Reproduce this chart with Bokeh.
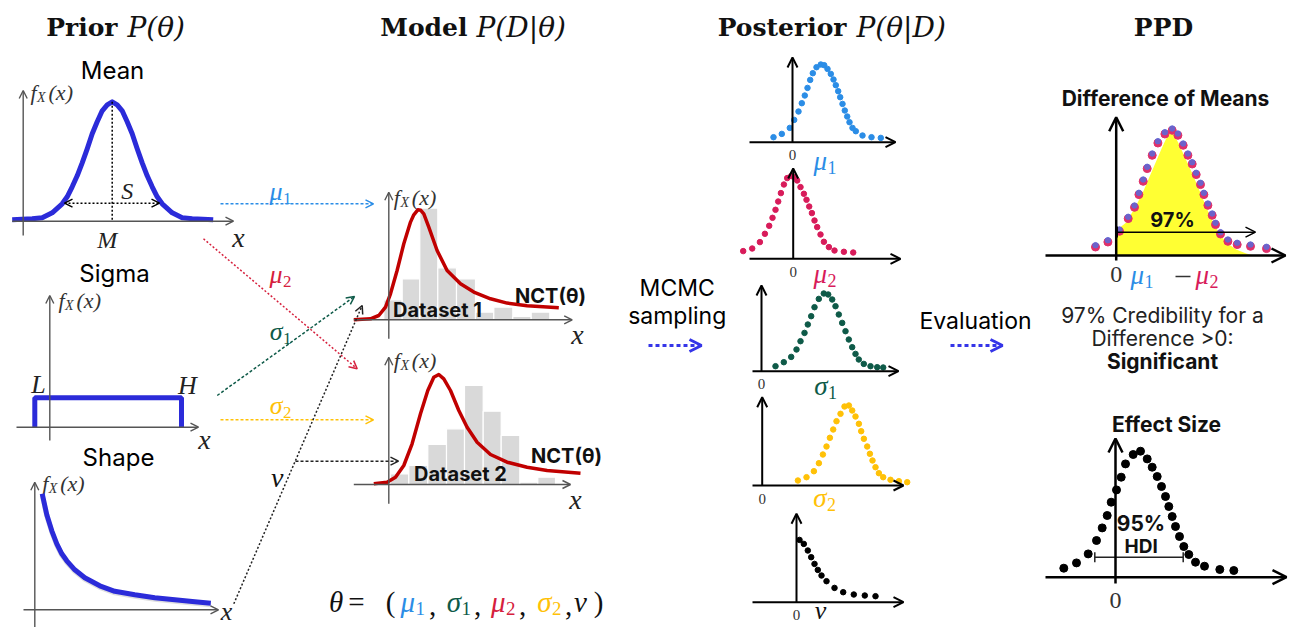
from bokeh.plotting import figure
from bokeh.models import Range1d, Arrow, OpenHead
from bokeh.embed import file_html
from bokeh.resources import INLINE
from bokeh.core.properties import value

# ---------------- data ----------------
titles = ["Prior", "Model", "Posterior", "PPD"]
title_math = ["P(θ)", "P(D|θ)", "P(θ|D)", ""]

# Prior "Mean": offsets from M and curve heights
mean_dx = [-100, -80, -70, -60, -50, -45, -40, -35, -30, -25, -20, -15, -10, -5, 0,
           5, 10, 15, 20, 25, 30, 35, 40, 45, 50, 60, 70, 80, 101]
mean_h = [0, 1, 2, 7, 16, 23, 33, 44, 57, 71, 86, 98, 109, 115, 118,
          115, 109, 98, 86, 71, 57, 44, 33, 23, 16, 7, 2, 1, 0]
# Prior "Sigma": uniform between L and H
sigma_L, sigma_H, sigma_h = -15, 131.7, 29.4
# Prior "Shape": decaying curve
shape_dx = [7.4, 12, 17, 22, 27, 32, 40, 50, 65, 80, 100, 120, 140, 160, 176]
shape_h = [116, 95, 79, 66, 56, 49, 40, 32, 24, 18.5, 15, 12, 10, 8, 6.6]

# Model: histograms and NCT curves
hist1_edges = [-5, 13.4, 31, 49, 67.7, 86.7, 105, 124, 142.4, 161]
hist1_h = [20, 41, 111.7, 52, 41, 7.7, 12.7, 3.3, 7.7]
hist2_edges = [1.7, 20, 39, 57.7, 75.7, 94.4, 112.4, 131, 149, 166.7]
hist2_h = [10.7, 19, 40, 55.7, 99, 73.3, 49, 2.3, 7.3]
nct1_x = [-35, -18.3, -10, -3.3, 1.7, 8.3, 15, 21.7, 25, 29, 32, 35, 40, 48.3, 58.3, 71.7, 85, 101.7, 118.3, 138.3, 170]
nct1_h = [0, 1, 4.3, 12.7, 26, 49.3, 76, 97.7, 105, 110, 109.5, 106, 92.7, 69.3, 49.3, 36, 27.7, 21, 16.7, 14, 12]
nct2_x = [-15, -1.7, 6.7, 15, 23.3, 31.7, 39, 45, 50, 55, 61.7, 70, 78.3, 88.3, 101.7, 118.3, 138.3, 158.3, 191.7]
nct2_h = [0.7, 2.3, 7.3, 19, 40.7, 70.7, 94, 107.3, 110, 105.7, 94, 74, 57.3, 42.3, 30, 22.3, 17.3, 14, 11.3]

# Posterior samples
mu1_x = [-19, -10.7, -2.7, 1.7, 6, 9.3, 12.3, 15, 17.7, 20.3, 24, 28.3, 31.7, 35, 38.3, 41, 43.3, 45.7, 47.7, 50, 52.3, 54.7, 57, 60, 63.3, 70, 79, 88.3]
mu1_h = [5, 8.3, 14.3, 22.3, 30.7, 39, 46.7, 54.3, 62.3, 69, 75, 77.7, 77, 73.3, 68.3, 62.7, 57, 51, 45, 38.3, 31.7, 25.7, 20, 14.3, 11, 6.7, 5, 4.3]
mu2_x = [-50, -41, -33.3, -28.3, -24, -20.7, -17.7, -15, -12.3, -9.3, -6, -2, 1.3, 4, 7.3, 10.7, 13.3, 16, 18.7, 21.3, 24, 27.3, 30.7, 35.7, 41.3, 50.7, 60]
mu2_h = [7.7, 10.3, 16.7, 25, 33, 41, 49, 57.3, 65.7, 74.3, 80.7, 82.7, 81.7, 78.3, 71.7, 65, 59, 52.3, 45.7, 38.3, 31.7, 24.3, 17, 11.7, 8.3, 7, 6.3]
s1_x = [14, 22.3, 29.7, 35, 39, 43, 46.3, 49.7, 53, 57.3, 62.3, 66.7, 70.7, 74, 77.3, 80.7, 84, 87.3, 90.7, 94, 97.3, 102.3, 109, 115.7, 121.7]
s1_h = [5, 9, 14.3, 21.7, 30, 38.3, 46.7, 55, 64, 72.3, 77.7, 76.7, 71.7, 65, 56.7, 48.3, 40, 31.7, 24, 17.3, 11.7, 7.3, 5, 4, 3.7]
s2_x = [35.7, 44.3, 51.7, 56.7, 60.7, 64.3, 67.7, 71, 74.3, 78.3, 82.3, 86.7, 90, 93.3, 96.7, 99, 101.7, 105, 107.7, 110.3, 113.3, 116.7, 121, 128.3, 136.7, 145]
s2_h = [5, 8.3, 14.3, 22.3, 31, 39, 47.7, 56, 64.3, 71.7, 79, 80, 75, 69, 61.7, 54.3, 46.7, 39, 31.7, 25, 18.3, 12.3, 8.3, 5.7, 4.3, 3.3]
nu_x = [3, 7.3, 11.3, 14.7, 18, 21.3, 25, 30, 38, 46.7, 57.3, 68.3, 79]
nu_h = [62.3, 58.3, 51.7, 45, 38.3, 32.3, 26.7, 21, 14.3, 10, 7.7, 6.7, 6]

# PPD
diff_x = [-20.7, -8.3, 3.3, 12, 18.3, 22.7, 27, 31, 36, 41.7, 48.7, 56, 61.7, 67, 71.7, 76, 80, 84.3, 87.7, 91.7, 96, 99.3, 104.3, 111.7, 121, 134.3, 150.3]
diff_h = [9.3, 14.3, 25, 37.7, 49, 61.7, 75, 87.7, 101, 113.3, 122.3, 126, 121, 111, 101, 92.3, 81.7, 71.7, 61.7, 51, 41, 31.7, 22.3, 15, 11.7, 10, 7.7]
diff_fill_x = [0, 0, 10, 20, 27, 33, 39, 45, 50, 54, 57, 62, 67, 72, 77, 82, 87, 92, 97, 103, 110, 120, 130, 138]
diff_fill_h = [0, 25, 33, 50, 64, 78, 92, 106, 117, 123, 122, 113, 102, 91, 80, 68, 56, 44, 33, 22, 13, 6, 2, 0]
eff_x = [-51.7, -39, -27.3, -19, -13.3, -8.3, -4.3, 1, 5.7, 10, 17.7, 25, 31.7, 36.7, 41.7, 46, 50, 53.3, 56.7, 60, 64, 68.3, 73.3, 80, 89, 104.3, 118.3]
eff_h = [9, 14.3, 23.3, 36.7, 49.3, 61.7, 75, 87.3, 100, 113.3, 122.7, 126, 118.3, 110, 100.7, 90.7, 80.7, 70.7, 60.7, 50.7, 40.7, 30.7, 22.7, 15, 11, 7.7, 6.7]
credible_pct = "97%"
hdi_range = [-20.7, 67.7]

# ---------------- figure ----------------
W, H = 1293, 627
p = figure(width=W, height=H, x_range=Range1d(0, W), y_range=Range1d(H, 0),
           output_backend="svg", toolbar_location=None, min_border=0,
           x_axis_location=None, y_axis_location=None)
p.grid.visible = False
p.outline_line_color = None
p.background_fill_color = "white"

SANS = "Inter"
SERIF = "Liberation Serif"
TSERIF = "DejaVu Serif"

BLUE = "#2b2bd9"
C_MU1 = "#2b8de6"
C_MU2 = "#d6203d"
C_MU2P = "#d81b5a"
C_S1 = "#0e5a48"
C_S2 = "#ffc107"
RED = "#c00000"
GRAY = "#555555"


def T(x, y, s, size, color="black", font=SANS, style="normal", align="center"):
    p.text(x=[x], y=[y], text=[s], text_font=value(font), text_font_size=f"{size}px",
           text_font_style=style, text_color=color, text_align=align, text_baseline="middle")


def ARW(x0, y0, x1, y1, color, lw, dash="solid", hs=8, both=False):
    kw = {}
    if both:
        kw["start"] = OpenHead(size=hs, line_color=color, line_width=lw)
    p.add_layout(Arrow(end=OpenHead(size=hs, line_color=color, line_width=lw),
                       x_start=x0, y_start=y0, x_end=x1, y_end=y1,
                       line_color=color, line_width=lw, line_dash=dash, **kw))


def axes(ox, oy, xl, xr, yt, yb, color, lw, hs):
    ARW(ox, yb, ox, yt, color, lw, hs=hs)
    ARW(xl, oy, xr, oy, color, lw, hs=hs)


def sym(xj, y, base, sub, color, size):
    T(xj, y, base, size, color, SERIF, "italic", "right")
    T(xj + 0.5, y + 0.25 * size, sub, round(size * 0.66), color, SERIF, "normal", "left")


def fx(xl, y, size=22, color="#333333"):
    T(xl, y, "f", size, color, SERIF, "italic", "left")
    T(xl + 0.3 * size, y + 0.22 * size, "X", round(size * 0.62), color, SERIF, "italic", "left")
    T(xl + 0.82 * size, y, "(x)", size, color, SERIF, "italic", "left")


# ---------------- titles ----------------
T(117, 27, titles[0], 25, "#111", TSERIF, "bold", "right")
T(127, 27, title_math[0], 28, "#111", TSERIF, "italic", "left")
T(467, 27, titles[1], 25, "#111", TSERIF, "bold", "right")
T(476, 27, title_math[1], 28, "#111", TSERIF, "italic", "left")
T(846, 27, titles[2], 25, "#111", TSERIF, "bold", "right")
T(856, 27, title_math[2], 28, "#111", TSERIF, "italic", "left")
T(1163, 27, titles[3], 25, "#111", TSERIF, "bold", "center")

# ---------------- prior: Mean ----------------
mx, mb = 111.7, 219.3
T(112, 70, "Mean", 24)
axes(22.7, 220.7, 11.7, 233, 90, 235, GRAY, 1.4, 8)
fx(30, 92)
p.line([mx + d for d in mean_dx], [mb - h for h in mean_h], line_color=BLUE, line_width=5, line_join="round")
p.line([mx, mx], [mb - max(mean_h), 221], line_color="black", line_width=1.5, line_dash="2 2")
ARW(64, 202.7, 159, 202.7, "black", 1.5, "2 2", 8, both=True)
T(126.7, 190, "S", 24, "#222", SERIF, "italic")
T(106.7, 239, "M", 24, "#222", SERIF, "italic")
T(238, 237, "x", 28, "#222", SERIF, "italic")

# ---------------- prior: Sigma ----------------
sx0, sb = 49.3, 426.7
T(114, 273, "Sigma", 24)
axes(sx0, sb, 16, 198, 295, 440, GRAY, 1.4, 8)
fx(58, 300)
p.line([sx0 + sigma_L, sx0 + sigma_L, sx0 + sigma_H, sx0 + sigma_H], [sb, sb - sigma_h, sb - sigma_h, sb],
       line_color=BLUE, line_width=5)
T(38, 384, "L", 26, "#222", SERIF, "italic")
T(187, 385, "H", 26, "#222", SERIF, "italic")
T(204, 439, "x", 28, "#222", SERIF, "italic")

# ---------------- prior: Shape ----------------
hx0, hb = 34.3, 609.3
T(118, 457, "Shape", 24)
axes(hx0, hb, 23, 218, 481.7, 630, GRAY, 1.4, 8)
fx(41.7, 483)
p.line([hx0 + d for d in shape_dx], [hb - h + 1.5 for h in shape_h], line_color="#c8c8c8", line_width=5, alpha=0.6)
p.line([hx0 + d for d in shape_dx], [hb - h for h in shape_h], line_color=BLUE, line_width=5, line_join="round")
T(226, 611, "x", 26, "#222", SERIF, "italic")

# ---------------- model panels ----------------
def model(ox, ob, edges, hts, cx, ch, xr, yt, yb, fy, nct_xy, ds_xy, ds_text, xlab):
    p.quad(left=[ox + e for e in edges[:-1]], right=[ox + e for e in edges[1:]],
           bottom=[ob] * len(hts), top=[ob - h for h in hts],
           fill_color="#d9d9d9", line_color="white", line_width=1.2)
    axes(ox, ob, 353.3, xr, yt, yb, GRAY, 1.4, 8)
    fx(393.3, fy)
    p.line([ox + x for x in cx], [ob - h for h in ch], line_color=RED, line_width=3.5, line_join="round")
    T(nct_xy[0], nct_xy[1], "NCT(θ)", 20, "#111", SANS, "bold")
    T(ds_xy[0], ds_xy[1], ds_text, 20, "#111", SANS, "bold")
    T(xlab[0], xlab[1], "x", 28, "#222", SERIF, "italic")


model(388.3, 319.3, hist1_edges, hist1_h, nct1_x, nct1_h, 571.7, 191.7, 338.3, 197,
      (550, 295), (437, 309), "Dataset 1", (577, 334))
model(388.3, 484, hist2_edges, hist2_h, nct2_x, nct2_h, 570, 356.7, 503.3, 360,
      (566, 455), (460, 473), "Dataset 2", (575, 499))

# ---------------- prior -> model arrows ----------------
ARW(220, 203.3, 373, 203.3, C_MU1, 1.5, "3 2", 8)
sym(282, 191, "μ", "1", C_MU1, 26)
ARW(203, 238.3, 356.7, 368.3, C_MU2, 1.5, "2 2", 8)
sym(282, 274, "μ", "2", C_MU2, 26)
ARW(216.7, 395, 354, 296, C_S1, 1.5, "3 2", 8)
sym(282, 331, "σ", "1", C_S1, 26)
ARW(220, 419.3, 373, 419.3, C_S2, 1.5, "3 2", 8)
sym(282, 405, "σ", "2", C_S2, 26)
ARW(233.3, 603.3, 361.7, 305, "#222", 1.5, "2 2", 8)
ARW(295, 460.7, 398, 460.7, "#222", 1.5, "3 2", 8)
T(276.7, 477, "ν", 28, "#111", SERIF, "italic")

# theta formula
fy = 601
T(335.5, fy, "θ", 29, "#111", SERIF, "italic")
T(356, fy, "=", 29, "#111", SERIF)
T(390, fy, "(", 29, "#111", SERIF)
sym(414.5, fy, "μ", "1", C_MU1, 29)
T(432, fy + 4, ",", 29, "#111", SERIF)
sym(460.5, fy, "σ", "1", C_S1, 29)
T(477, fy + 4, ",", 29, "#111", SERIF)
sym(505, fy, "μ", "2", C_MU2, 29)
T(522, fy + 4, ",", 29, "#111", SERIF)
sym(551, fy, "σ", "2", C_S2, 29)
T(568, fy + 4, ",", 29, "#111", SERIF)
T(580, fy, "ν", 29, "#111", SERIF, "italic")
T(598, fy, ")", 29, "#111", SERIF)

# ---------------- MCMC / Evaluation ----------------
T(676.7, 287, "MCMC", 23)
T(676.7, 315, "sampling", 23)
ARW(648, 345, 701, 345, "#3535e8", 3, "4 3", 12)
T(975, 320, "Evaluation", 23)
ARW(950, 345, 1002, 345, "#3535e8", 3, "4 3", 12)

# ---------------- posterior panels ----------------
def post(ox, ob, xs, hs, color, xl, xr, yt):
    axes(ox, ob, xl, xr, yt, ob, "black", 2, 10)
    p.scatter([ox + x for x in xs], [ob - h for h in hs], size=5.5, color=color)
    T(ox, ob + 13, "0", 15, "#333", SERIF)


post(792, 141.7, mu1_x, mu1_h, C_MU1, 749, 895, 57)
sym(826.5, 160, "μ", "1", C_MU1, 27)
post(792.7, 258.3, mu2_x, mu2_h, C_MU2P, 749, 900, 168)
sym(826.5, 273, "μ", "2", C_MU2P, 27)
post(761, 370.7, s1_x, s1_h, C_S1, 752, 898, 285)
sym(827, 385, "σ", "1", C_S1, 27)
post(761.7, 485, s2_x, s2_h, C_S2, 752, 903, 396.7)
sym(826, 497, "σ", "2", C_S2, 27)
post(796, 601.7, nu_x, nu_h, "black", 752, 903, 513.3)
T(820, 610, "ν", 26, "#111", SERIF, "italic")

# ---------------- PPD: difference of means ----------------
dx0, db = 1115.7, 255
T(1165, 98, "Difference of Means", 21, "#111", SANS, "bold")
p.patch([dx0 + x for x in diff_fill_x], [db - h for h in diff_fill_h], fill_color="#ffff33", line_color=None)
axes(dx0, db, 1045, 1285, 116.7, 260, "black", 2.5, 14)
p.scatter([dx0 + x for x in diff_x], [db - h + 0.8 for h in diff_h], size=8, color="#e0306a")
p.scatter([dx0 + x for x in diff_x], [db - h - 1.0 for h in diff_h], size=5.5, color="#5a6ad8", alpha=0.85)
ARW(dx0 + 1, 231.7, 1255, 231.7, "black", 1.5, "solid", 10)
p.line([dx0 + 1, dx0 + 1], [226, 237], line_color="black", line_width=1.5)
T(1172, 219, credible_pct, 20, "#111", SANS, "bold")
T(1115.7, 274, "0", 24, "#333", SERIF)
sym(1143.5, 274, "μ", "1", C_MU1, 27)
p.line([1175, 1190], [276, 276], line_color="#333", line_width=1.5)
sym(1208.5, 274, "μ", "2", C_MU2P, 27)
T(1162, 315, "97% Credibility for a", 21, "#222")
T(1162, 338, "Difference >0:", 21, "#222")
T(1162, 361, "Significant", 21, "#111", SANS, "bold")

# ---------------- PPD: effect size ----------------
ex0, eb = 1115, 576.7
T(1166, 424, "Effect Size", 21, "#111", SANS, "bold")
axes(ex0, eb, 1045, 1286, 438, 583, "black", 2.5, 14)
p.scatter([ex0 + x for x in eff_x], [eb - h for h in eff_h], size=8, color="black")
hy = 556.7
p.line([ex0 + hdi_range[0], ex0 + hdi_range[1]], [hy, hy], line_color="#222", line_width=1.5)
p.line([ex0 + hdi_range[0]] * 2, [hy - 5, hy + 5], line_color="#222", line_width=1.5)
p.line([ex0 + hdi_range[1]] * 2, [hy - 5, hy + 5], line_color="#222", line_width=1.5)
T(1140.5, 523, "95%", 21, "#111", SANS, "bold")
T(1140.7, 546, "HDI", 19, "#111", SANS, "bold")
T(1115, 600, "0", 24, "#333", SERIF)

open("out.html", "w").write(file_html(p, INLINE))
